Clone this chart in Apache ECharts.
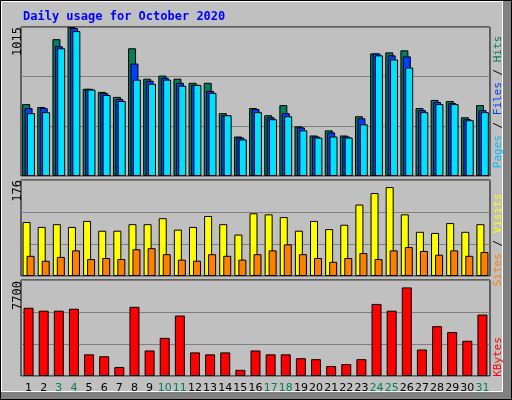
<!DOCTYPE html>
<html>
<head>
<meta charset="utf-8">
<script src="https://cdn.jsdelivr.net/npm/echarts@6/dist/echarts.min.js"></script>
<style>
  html, body { margin: 0; padding: 0; background: #c0c0c0; }
  #main { width: 512px; height: 400px; }
</style>
</head>
<body>
<div id="main"></div>
<script>
// 每日数据
var days = [];
for (var d = 1; d <= 31; d++) days.push(String(d));
var weekends = [3, 4, 10, 11, 17, 18, 24, 25, 31];

var hits = [490, 470, 932, 1015, 594, 573, 539, 870, 663, 684, 663, 635, 635, 428, 269, 463,
            414, 483, 338, 276, 311, 276, 407, 835, 842, 856, 463, 518, 511, 400, 483];
var files = [463, 463, 884, 1008, 594, 566, 525, 766, 649, 670, 635, 621, 580, 414, 262, 456,
             400, 428, 331, 269, 297, 269, 393, 835, 822, 815, 449, 504, 497, 387, 449];
var pages = [428, 435, 870, 987, 589, 552, 511, 656, 628, 656, 615, 621, 566, 414, 249, 435,
             387, 407, 311, 262, 269, 262, 352, 822, 794, 739, 435, 490, 490, 380, 435];
var visits = [99, 90, 95, 90, 101, 83, 83, 95, 95, 106, 85, 90, 110, 95, 76, 115,
              113, 108, 83, 101, 86, 94, 131, 152, 163, 113, 81, 79, 97, 81, 95];
var sites = [37, 28, 35, 47, 31, 33, 31, 49, 51, 40, 30, 28, 40, 37, 30, 40,
             47, 58, 40, 33, 26, 33, 42, 31, 47, 53, 46, 39, 47, 37, 44];
var kbytes = [5471, 5238, 5238, 5393, 1737, 1582, 726, 5549, 2048, 3060, 4849, 1893, 1737, 1893, 493, 2048,
              1737, 1737, 1426, 1348, 804, 959, 1348, 5782, 5238, 7105, 2126, 3993, 3526, 2826, 4927];

var maxTop = 1015, maxMid = 176, maxBot = 7700;

var myChart = echarts.init(document.getElementById('main'));
var mono = 'DejaVu Sans Mono';
var sideFont = '11px ' + mono;

function xAx(idx, showLabel) {
    return {
        type: 'category', gridIndex: idx, data: days,
        axisLine: { show: false }, axisTick: { show: false },
        axisLabel: {
            show: showLabel, fontFamily: 'DejaVu Sans', fontSize: 11, margin: 7, interval: 0,
            color: function(v) { return weekends.indexOf(+v) >= 0 ? '#00805c' : '#000'; }
        }
    };
}
function yAx(idx, max) {
    return {
        type: 'value', gridIndex: idx, min: 0, max: max, interval: max / 3,
        axisLabel: { show: false }, axisLine: { show: false }, axisTick: { show: false },
        splitLine: { lineStyle: { color: '#808080', width: 1 } }
    };
}
function bar(name, data, xi, color, w, gap) {
    return {
        name: name, type: 'bar', xAxisIndex: xi, yAxisIndex: xi, data: data,
        barWidth: w, barGap: gap, animation: false,
        itemStyle: { color: color, borderColor: '#000', borderWidth: 1 }
    };
}
function sideLabel(x, y, rich, text) {
    return {
        type: 'text', x: x, y: y, rotation: Math.PI / 2,
        style: { text: text, rich: rich, font: sideFont, align: 'center', verticalAlign: 'middle' }
    };
}
function maxLabel(y, t) {
    return {
        type: 'text', x: 18, y: y, rotation: Math.PI / 2,
        style: { text: t, font: '12px ' + mono, fill: '#000', align: 'right', verticalAlign: 'middle' }
    };
}

option = {
    backgroundColor: '#c0c0c0',
    animation: false,
    title: {
        text: 'Daily usage for October 2020', left: 18, top: 6,
        textStyle: { color: '#0000ff', fontFamily: mono, fontSize: 12, fontWeight: 'bold' }
    },
    grid: [
        { left: 21, right: 22, top: 27, height: 149, show: true, borderColor: '#000', borderWidth: 1 },
        { left: 21, right: 22, top: 180, height: 96, show: true, borderColor: '#000', borderWidth: 1 },
        { left: 21, right: 22, top: 280, height: 96, show: true, borderColor: '#000', borderWidth: 1 }
    ],
    xAxis: [xAx(0, false), xAx(1, false), xAx(2, true)],
    yAxis: [yAx(0, maxTop), yAx(1, maxMid), yAx(2, maxBot)],
    series: [
        bar('Hits', hits, 0, '#00805c', 8, '-70%'),
        bar('Files', files, 0, '#0040ff', 8, '-70%'),
        bar('Pages', pages, 0, '#00e0ff', 8, '-70%'),
        bar('Visits', visits, 1, '#ffff00', 8, '-50%'),
        bar('Sites', sites, 1, '#ff8000', 8, '-50%'),
        bar('KBytes', kbytes, 2, '#ff0000', 10, '-100%')
    ],
    graphic: [
        { type: 'rect', shape: { x: 503, y: 0, width: 9, height: 400 }, style: { fill: '#808080' }, z: -1 },
        { type: 'rect', shape: { x: 0, y: 392, width: 512, height: 8 }, style: { fill: '#808080' }, z: -1 },
        { type: 'rect', shape: { x: 0.5, y: 0.5, width: 511, height: 399 }, style: { fill: 'none', stroke: '#000', lineWidth: 1 } },
        { type: 'rect', shape: { x: 1.5, y: 1.5, width: 501, height: 390 }, style: { fill: 'none', stroke: '#fff', lineWidth: 1 } },
        maxLabel(27, String(maxTop)),
        maxLabel(180, String(maxMid)),
        maxLabel(281, String(maxBot)),
        sideLabel(498, 102, {
            p: { fill: '#00c0ff', font: sideFont },
            f: { fill: '#0040ff', font: sideFont },
            h: { fill: '#00805c', font: sideFont },
            s: { fill: '#000', font: sideFont }
        }, '{p|Pages}{s| / }{f|Files}{s| / }{h|Hits}'),
        sideLabel(498, 240, {
            a: { fill: '#ff8000', font: sideFont },
            b: { fill: '#ffff00', font: sideFont },
            s: { fill: '#000', font: sideFont }
        }, '{a|Sites}{s| / }{b|Visits}'),
        sideLabel(498, 357, { k: { fill: '#ff0000', font: sideFont } }, '{k|KBytes}')
    ]
};

myChart.setOption(option);
</script>
</body>
</html>
